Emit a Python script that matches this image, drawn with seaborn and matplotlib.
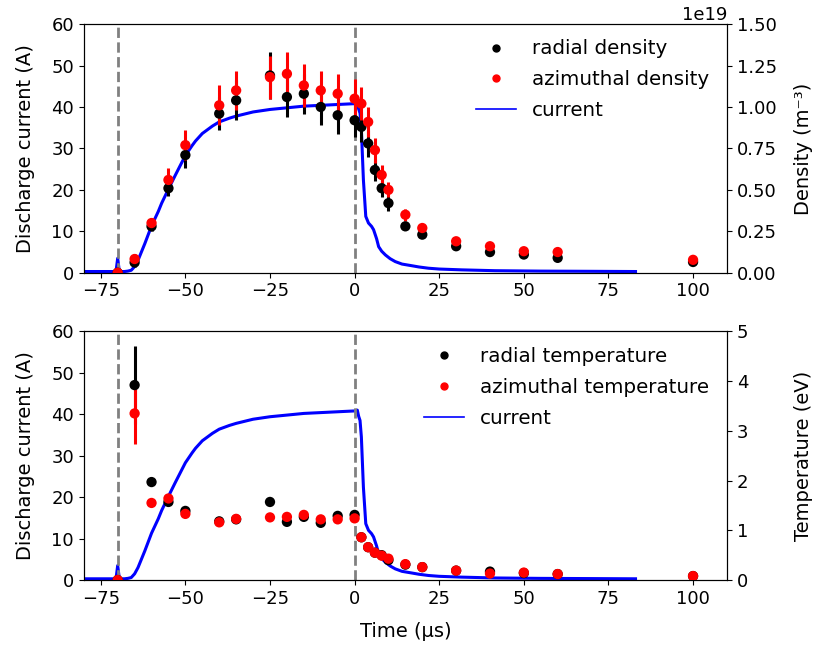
import numpy as np
import pandas as pd
import matplotlib
matplotlib.use('Agg')
import matplotlib.pyplot as plt
from matplotlib.lines import Line2D
import seaborn as sns

# Discharge current trace
t_cur = [-80, -72, -70.5, -70, -69.5, -68, -67, -66, -65, -64, -62, -60, -58, -57, -55, -53, -52, -50,
         -48, -47, -45, -42, -40, -37, -35, -30, -25, -20, -15, -10, -5, 0, 0.8, 1.2, 1.6,
         2.0, 2.6, 3.3, 4.1, 5.0, 5.6, 6.5, 7.1, 8.0, 9.1, 10.5, 12, 14, 16.9, 19,
         21.8, 25, 31.7, 41.5, 55, 70, 83]
current = [0.3, 0.3, 0.3, 3.5, 0.3, 0.3, 0.4, 0.6, 1.5, 3.0, 7.0, 11.3, 14.8, 16.8, 20.2, 23.5, 25.1, 28.3,
           30.7, 31.8, 33.6, 35.4, 36.4, 37.3, 37.8, 38.8, 39.4, 39.8, 40.2, 40.4, 40.6, 40.8, 41.0, 39.5, 38.5,
           34.5, 22.4, 13.6, 12.0, 11.2, 10.4, 8.2, 6.3, 5.2, 4.3, 3.4, 2.7, 2.1, 1.7, 1.4,
           1.1, 0.9, 0.7, 0.5, 0.4, 0.35, 0.3]

# Probe times (us)
t_probe = [-70, -65, -60, -55, -50, -40, -35, -25, -20, -15, -10, -5, 0, 2, 4, 6, 8, 10,
           15, 20, 30, 40, 50, 60, 100]

# Density (1e19 m^-3)
dens_rad = [0.0, 0.062, 0.28, 0.51, 0.71, 0.96, 1.04, 1.19, 1.06, 1.08, 1.00, 0.95, 0.92, 0.88,
            0.78, 0.62, 0.51, 0.42, 0.28, 0.23, 0.16, 0.125, 0.11, 0.09, 0.065]
dens_rad_err = [0.0, 0.03, 0.03, 0.045, 0.08, 0.10, 0.12, 0.14, 0.12, 0.12, 0.11, 0.11, 0.10, 0.09,
                0.08, 0.065, 0.055, 0.045, 0.02, 0.015, 0.01, 0.01, 0.01, 0.01, 0.01]
dens_az = [0.0, 0.083, 0.30, 0.56, 0.77, 1.01, 1.10, 1.18, 1.20, 1.13, 1.10, 1.08, 1.05, 1.02,
           0.91, 0.74, 0.59, 0.50, 0.35, 0.27, 0.19, 0.16, 0.13, 0.125, 0.078]
dens_az_err = [0.0, 0.03, 0.03, 0.07, 0.09, 0.12, 0.12, 0.13, 0.13, 0.13, 0.12, 0.12, 0.12, 0.10,
               0.09, 0.075, 0.06, 0.045, 0.035, 0.02, 0.015, 0.01, 0.01, 0.01, 0.01]

# Temperature (eV)
temp_rad = [0.0, 3.92, 1.97, 1.57, 1.39, 1.18, 1.22, 1.57, 1.17, 1.27, 1.15, 1.29, 1.31, 0.86,
            0.66, 0.55, 0.50, 0.40, 0.31, 0.26, 0.19, 0.17, 0.14, 0.12, 0.08]
temp_rad_err = [0.0, 0.78, 0.03, 0.03, 0.03, 0.03, 0.03, 0.03, 0.03, 0.03, 0.03, 0.03, 0.03, 0.02,
                0.02, 0.02, 0.02, 0.02, 0.01, 0.01, 0.01, 0.01, 0.01, 0.01, 0.01]
temp_az = [0.0, 3.35, 1.55, 1.64, 1.33, 1.16, 1.23, 1.26, 1.27, 1.31, 1.22, 1.22, 1.24, 0.86,
           0.66, 0.55, 0.49, 0.43, 0.32, 0.26, 0.19, 0.13, 0.15, 0.12, 0.08]
temp_az_err = [0.0, 0.62, 0.03, 0.03, 0.03, 0.03, 0.03, 0.03, 0.03, 0.03, 0.03, 0.03, 0.03, 0.02,
               0.02, 0.02, 0.02, 0.02, 0.01, 0.01, 0.01, 0.01, 0.01, 0.01, 0.01]

cur_df = pd.DataFrame({'t': t_cur, 'I': current})
probe = pd.DataFrame({'t': t_probe,
                      'n_rad': np.array(dens_rad) * 1e19, 'n_rad_err': np.array(dens_rad_err) * 1e19,
                      'n_az': np.array(dens_az) * 1e19, 'n_az_err': np.array(dens_az_err) * 1e19,
                      'T_rad': temp_rad, 'T_rad_err': temp_rad_err,
                      'T_az': temp_az, 'T_az_err': temp_az_err})

plt.rcParams['font.size'] = 13

fig = plt.figure(figsize=(8.14, 6.51), dpi=100)
ax1 = fig.add_axes([0.103, 0.581, 0.790, 0.382])
ax2 = fig.add_axes([0.103, 0.109, 0.790, 0.382])


def panel(ax, rad, rad_err, az, az_err, ylabel_r, ylim_r, labels):
    sns.lineplot(data=cur_df, x='t', y='I', ax=ax, color='blue', lw=2.2, legend=False)
    for x0 in (-70, 0):
        ax.axvline(x0, color='grey', ls='--', lw=2)
    ax.set_xlim(-80, 110)
    ax.set_ylim(0, 60)
    ax.set_xticks([-75, -50, -25, 0, 25, 50, 75, 100])
    ax.set_ylabel('Discharge current (A)', fontsize=14, labelpad=12)
    ax.set_xlabel('')
    axr = ax.twinx()
    axr.errorbar(probe['t'], probe[rad], yerr=probe[rad_err], fmt='none', ecolor='black', elinewidth=2.2)
    sns.scatterplot(data=probe, x='t', y=rad, ax=axr, color='black', s=55, edgecolor='none', zorder=3)
    axr.errorbar(probe['t'], probe[az], yerr=probe[az_err], fmt='none', ecolor='red', elinewidth=2.2)
    sns.scatterplot(data=probe, x='t', y=az, ax=axr, color='red', s=55, edgecolor='none', zorder=4)
    axr.set_ylim(*ylim_r)
    axr.set_ylabel(ylabel_r, fontsize=14)
    axr.yaxis.set_label_coords(1.104, 0.5)
    axr.set_xlabel('')
    handles = [Line2D([], [], ls='none', marker='o', color='black', markersize=5),
               Line2D([], [], ls='none', marker='o', color='red', markersize=5),
               Line2D([], [], color='blue', lw=1.2)]
    axr.legend(handles, labels, loc='upper right', bbox_to_anchor=(1.0, 1.01),
               frameon=False, fontsize=14.3, handlelength=2.0, labelspacing=0.6)
    return axr


r1 = panel(ax1, 'n_rad', 'n_rad_err', 'n_az', 'n_az_err', 'Density (m⁻³)', (0, 1.5e19),
           ['radial density', 'azimuthal density', 'current'])
r1.set_yticks(np.arange(0, 1.51e19, 0.25e19))

r2 = panel(ax2, 'T_rad', 'T_rad_err', 'T_az', 'T_az_err', 'Temperature (eV)', (0, 5),
           ['radial temperature', 'azimuthal temperature', 'current'])
ax2.set_xlabel('Time (µs)', fontsize=14, labelpad=10)

fig.savefig('out.png', dpi=100)
